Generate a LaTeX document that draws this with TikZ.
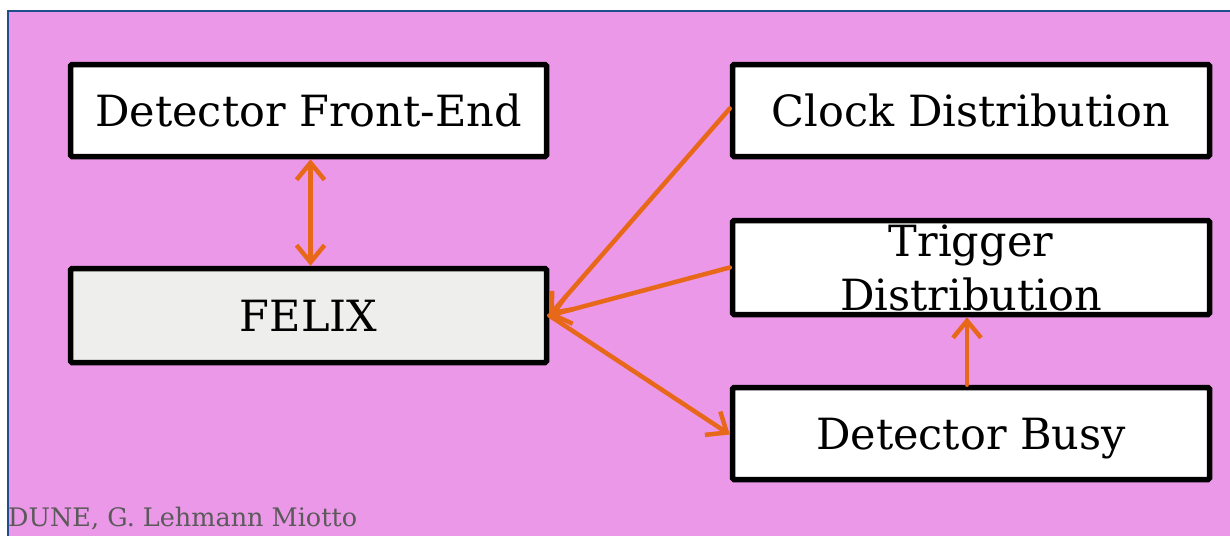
\documentclass[tikz,border=0pt]{standalone}
\usepackage{fontspec}
\setmainfont{DejaVu Serif}
\usetikzlibrary{arrows.meta}
\definecolor{bgpink}{RGB}{236,152,232}
\definecolor{frameblue}{RGB}{31,78,140}
\definecolor{arroworange}{RGB}{232,104,26}
\definecolor{felixgray}{RGB}{238,238,236}
\definecolor{footgray}{RGB}{90,90,90}
\tikzset{
  blockbox/.style={draw=black, line width=5.5pt, fill=white, rounded corners=1.5pt,
    inner sep=0pt, font=\fontsize{43}{52}\selectfont, text depth=0pt},
  flow/.style={draw=arroworange, line width=4.5pt, line cap=round,
    -{Straight Barb[length=17pt,width=28pt,line width=4.5pt]}},
  flowboth/.style={draw=arroworange, line width=4.5pt, line cap=round,
    {Straight Barb[length=17pt,width=28pt,line width=4.5pt]}-{Straight Barb[length=17pt,width=28pt,line width=4.5pt]}}
}
\begin{document}
\begin{tikzpicture}[x=1pt,y=-1pt]
\useasboundingbox (0,0) rectangle (1230,535);
\clip (0,0) rectangle (1230,535);
\fill[white] (0,0) rectangle (1230,535);
\fill[bgpink] (8,11) rectangle (1240,545);
\draw[frameblue, line width=2.5pt] (8,545) -- (8,11) -- (1240,11);

\node[blockbox, minimum width=476pt, minimum height=92pt] (fe) at (308.5,110.5) {Detector Front-End};
\node[blockbox, fill=felixgray, minimum width=476pt, minimum height=94pt] (felix) at (308.5,315.5) {FELIX};
\node[blockbox, minimum width=477pt, minimum height=92pt] (clock) at (971,110.5) {Clock Distribution};
\node[blockbox, minimum width=477pt, minimum height=94pt, text depth=, align=center,
  font=\fontsize{43}{56}\selectfont] (trig) at (971,267.5) {Trigger\\[-2pt]Distribution};
\node[blockbox, minimum width=477pt, minimum height=92pt] (busy) at (971,433.5) {Detector Busy};

\draw[flowboth] ([xshift=2pt]fe.south) -- ([xshift=2pt]felix.north);
\draw[flow] ([yshift=2pt]clock.west) -- (felix.east);
\draw[flow] (trig.west) -- (felix.east);
\draw[flow] (felix.east) -- ([yshift=-1pt]busy.west);
\draw[flow] ([xshift=-4pt]busy.north) -- ([xshift=-4pt]trig.south);

\node[anchor=base west, inner sep=0pt, text=footgray, font=\fontsize{25.5}{30}\selectfont] (foot) at (8,526) {DUNE, G. Lehmann Miotto};
\end{tikzpicture}
\end{document}
